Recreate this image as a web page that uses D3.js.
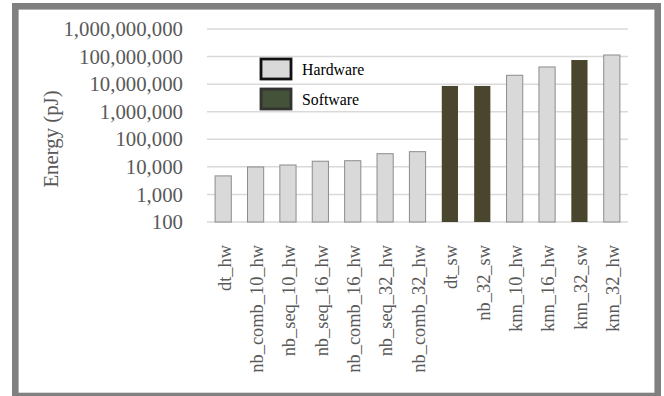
<!DOCTYPE html>
<html><head><meta charset="utf-8">
<script src="https://cdn.jsdelivr.net/npm/d3@7"></script>
<style>body{margin:0;background:#fff}svg{display:block}</style>
</head><body>
<svg id="c" width="664" height="396"></svg>
<script>
const categories = ["dt_hw","nb_comb_10_hw","nb_seq_10_hw","nb_seq_16_hw","nb_comb_16_hw","nb_seq_32_hw","nb_comb_32_hw","dt_sw","nb_32_sw","knn_10_hw","knn_16_hw","knn_32_sw","knn_32_hw"];
const energy = [4700, 9900, 11700, 16000, 16700, 30000, 35500, 8600000, 8600000, 21000000, 42000000, 75000000, 114000000];
const kind = ["Hardware","Hardware","Hardware","Hardware","Hardware","Hardware","Hardware","Software","Software","Hardware","Hardware","Software","Hardware"];
const yTicks = [100, 1000, 10000, 100000, 1000000, 10000000, 100000000, 1000000000];
const legendItems = ["Hardware","Software"];

const svg = d3.select("#c");
const font = "'Liberation Serif','Times New Roman',serif";

svg.append("rect").attr("x",15.3).attr("y",6.3).attr("width",642.4).attr("height",389.7)
  .attr("fill","#fff").attr("stroke","#808080").attr("stroke-width",6.6);

const x = d3.scaleBand().domain(categories).range([207, 628]).paddingInner(0.5).paddingOuter(0.25);
const y = d3.scaleLog().domain([100, 1e9]).range([222, 29]);

const g = svg.append("g");
g.selectAll("line.grid").data(yTicks).join("line")
  .attr("x1",207).attr("x2",628).attr("y1",d=>y(d)).attr("y2",d=>y(d))
  .attr("stroke","#d9d9d9").attr("stroke-width",1.5);

const yAxis = d3.axisLeft(y).tickValues(yTicks).tickFormat(d3.format(",")).tickSize(0).tickPadding(24);
const ya = svg.append("g").attr("transform","translate(207,0)").call(yAxis);
ya.select(".domain").remove();
ya.selectAll("text").attr("font-family",font).attr("font-size",20.8).attr("fill","#595959");

const fill = {Hardware:"#d9d9d9", Software:"#4a452d"};
g.selectAll("rect.bar").data(categories).join("rect")
  .attr("x",d=>x(d)).attr("width",x.bandwidth())
  .attr("y",(d,i)=>y(energy[i])).attr("height",(d,i)=>y(100)-y(energy[i]))
  .attr("fill",(d,i)=>fill[kind[i]])
  .attr("stroke",(d,i)=>kind[i]==="Hardware"?"#8c8c8c":"none").attr("stroke-width",1);

const xAxis = d3.axisBottom(x).tickSize(0).tickPadding(0);
const xa = svg.append("g").attr("transform","translate(0,222)").call(xAxis);
xa.select(".domain").remove();
xa.selectAll("text").attr("font-family",font).attr("font-size",18.4).attr("fill","#595959")
  .attr("transform","rotate(-90)").attr("text-anchor","end").attr("dx",-23).attr("dy","0.4em").attr("y",0);

svg.append("text").attr("transform","translate(58,139) rotate(-90)").attr("text-anchor","middle")
  .attr("font-family",font).attr("font-size",20.8).attr("fill","#595959").text("Energy (pJ)");

const legFill = {Hardware:"#d9d9d9", Software:"#435238"};
const legStroke = {Hardware:"#111", Software:"#333"};
const lg = svg.append("g");
legendItems.forEach((k,i)=>{
  lg.append("rect").attr("x",261).attr("y",59+i*30).attr("width",30).attr("height",20)
    .attr("fill",legFill[k]).attr("stroke",legStroke[k]).attr("stroke-width",2.8);
  lg.append("text").attr("x",302).attr("y",75+i*30).attr("font-family",font).attr("font-size",15.8)
    .attr("fill","#000").text(k);
});
</script>
</body></html>
